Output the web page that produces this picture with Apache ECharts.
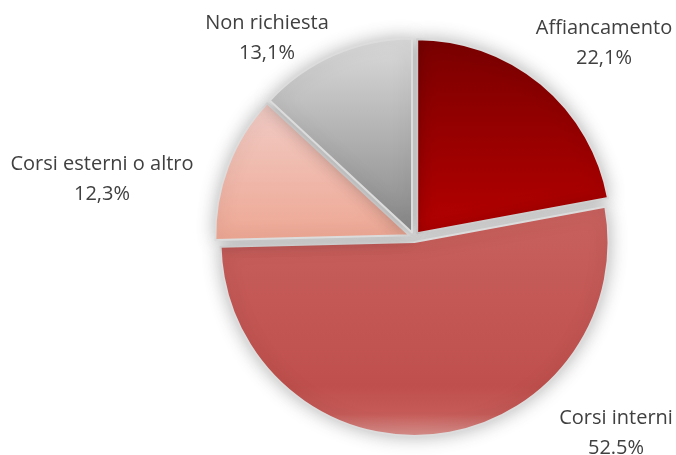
<!DOCTYPE html>
<html>
<head>
<meta charset="utf-8">
<script src="https://cdn.jsdelivr.net/npm/echarts@6/dist/echarts.min.js"></script>
<style>
html,body{margin:0;padding:0;background:#fff;}
#chart{width:676px;height:455px;}
</style>
</head>
<body>
<div id="chart"></div>
<script>
// Data
const categories = ['Affiancamento', 'Corsi interni', 'Corsi esterni o altro', 'Non richiesta'];
const values = [22.1, 52.5, 12.3, 13.1];
const valueLabels = ['22,1%', '52.5%', '12,3%', '13,1%'];

// Styling (not data)
const gradients = [
  [[0, '#7a0000'], [1, '#b50000']],
  [[0, '#c8625f'], [0.78, '#bf4f4c'], [0.9, '#c55b58'], [1, '#d9938f']],
  [[0, '#f1ccc6'], [1, '#eea793']],
  [[0, '#dbdbdb'], [1, '#888888']]
];
const labelCenters = [[604, 43], [616, 433], [102, 179], [267, 38]];

const chart = echarts.init(document.getElementById('chart'), null, {renderer: 'canvas'});
const sliceData = categories.map((name, i) => ({
  name: name,
  value: values[i],
  selected: true,
  itemStyle: {
    color: new echarts.graphic.LinearGradient(0, 0, 0, 1,
      gradients[i].map(s => ({offset: s[0], color: s[1]})))
  }
}));
const labelData = categories.map((name, i) => ({ name: name, value: values[i] }));

chart.setOption({
  animation: false,
  backgroundColor: '#ffffff',
  series: [{
    type: 'pie',
    center: [414, 237],
    radius: [0, 194],
    startAngle: 90,
    clockwise: true,
    selectedMode: 'multiple',
    selectedOffset: 5,
    data: sliceData,
    itemStyle: {
      borderColor: '#dcdcdc',
      borderWidth: 2,
      shadowBlur: 18,
      shadowColor: 'rgba(0,0,0,0.28)'
    },
    select: { itemStyle: { borderColor: '#dcdcdc', borderWidth: 2 } },
    emphasis: { disabled: true },
    label: { show: false },
    labelLine: { show: false },
    silent: true
  }, {
    type: 'pie',
    center: [414, 237],
    radius: [0, 194],
    startAngle: 90,
    clockwise: true,
    silent: true,
    avoidLabelOverlap: false,
    data: labelData,
    itemStyle: { color: 'rgba(0,0,0,0)', borderWidth: 0 },
    emphasis: { disabled: true },
    label: {
      show: true,
      position: 'outside',
      formatter: p => p.name + '\n' + valueLabels[p.dataIndex],
      fontFamily: 'Open Sans',
      fontSize: 20,
      lineHeight: 30,
      color: '#404040',
      align: 'center'
    },
    labelLine: { show: false },
    labelLayout: function (params) {
      const c = labelCenters[params.dataIndex];
      return { x: c[0], y: c[1], align: 'center', verticalAlign: 'middle' };
    }
  }]
});
</script>
</body>
</html>
